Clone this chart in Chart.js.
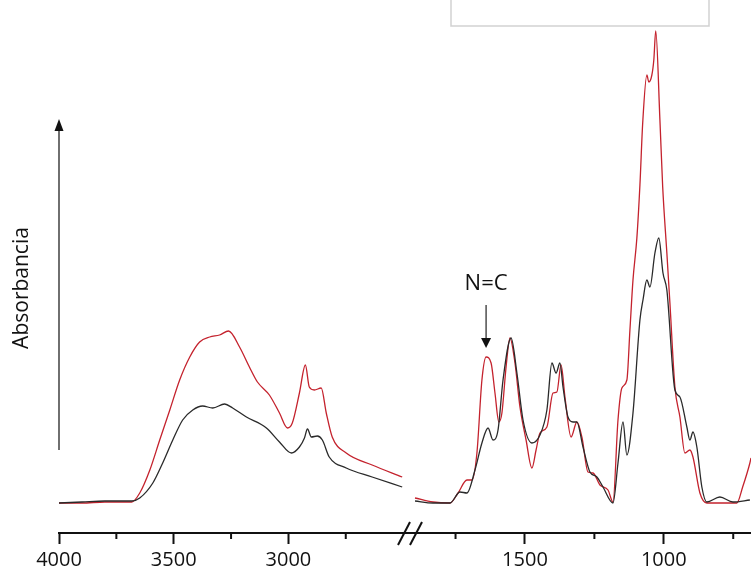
<!DOCTYPE html>
<html>
<head>
<meta charset="utf-8">
<script src="https://cdn.jsdelivr.net/npm/chart.js@4.4.1/dist/chart.umd.min.js"></script>
<style>
  html, body { margin: 0; padding: 0; background: #fff; overflow: hidden; }
  #wrap { position: relative; width: 751px; height: 569px; overflow: hidden; }
  #wrap canvas { position: absolute; left: 0; top: 0; }
</style>
</head>
<body>
<div id="wrap">
  <canvas id="left-chart" width="751" height="576"></canvas>
  <canvas id="right-chart" width="751" height="576"></canvas>
</div>
<script>
// wavenumber (cm-1) / absorbance (a.u.)
// left panel: 4000 - 2500 cm-1
const leftRedX = [4000, 3900, 3800, 3683, 3648, 3604, 3561, 3517, 3474, 3430, 3387, 3343, 3300, 3261, 3213, 3170, 3135, 3083, 3039, 3004, 2983, 2952, 2926, 2909, 2887, 2857, 2835, 2809, 2748, 2635, 2504];
const leftRedY = [0, 0, 1, 1, 10, 33, 63, 93, 123, 146, 161, 166, 168, 172, 156, 136, 121, 108, 90, 75, 80, 110, 138, 116, 113, 115, 90, 66, 50, 38, 26];

const leftBlackX = [4000, 3900, 3800, 3683, 3648, 3591, 3548, 3504, 3461, 3417, 3374, 3330, 3278, 3243, 3183, 3096, 3039, 2987, 2952, 2930, 2917, 2900, 2874, 2852, 2822, 2748, 2635, 2504];
const leftBlackY = [0, 1, 2, 2, 5, 20, 40, 63, 83, 93, 97, 95, 99, 95, 86, 75, 61, 50, 56, 65, 74, 66, 67, 63, 46, 35, 26, 16];

// right panel: 1900 - 690 cm-1
const rightRedX = [1896, 1831, 1770, 1741, 1709, 1691, 1673, 1655, 1640, 1622, 1608, 1594, 1583, 1568, 1554, 1536, 1518, 1496, 1475, 1460, 1446, 1421, 1399, 1385, 1370, 1356, 1334, 1313, 1295, 1273, 1255, 1230, 1201, 1183, 1165, 1151, 1133, 1122, 1111, 1097, 1086, 1076, 1061, 1054, 1043, 1036, 1029, 1014, 1004, 989, 978, 960, 942, 924, 906, 895, 870, 845, 800, 737, 716, 690, 686];
const rightRedY = [5, 1, 0, 10, 23, 23, 50, 123, 146, 140, 110, 81, 90, 136, 165, 140, 96, 63, 35, 53, 70, 76, 110, 111, 138, 106, 66, 81, 66, 31, 30, 18, 13, 1, 83, 115, 123, 173, 223, 265, 318, 380, 428, 421, 428, 443, 472, 383, 316, 250, 200, 116, 86, 50, 53, 46, 10, 0, 0, 0, 16, 40, 45];

const rightBlackX = [1896, 1831, 1770, 1734, 1709, 1680, 1655, 1633, 1615, 1597, 1579, 1550, 1529, 1507, 1475, 1446, 1421, 1403, 1388, 1374, 1363, 1345, 1327, 1313, 1291, 1266, 1241, 1219, 1183, 1165, 1147, 1133, 1111, 1086, 1075, 1061, 1050, 1032, 1018, 1003, 989, 960, 942, 917, 906, 895, 881, 863, 845, 798, 751, 690];
const rightBlackY = [2, 0, 0, 11, 10, 33, 60, 75, 63, 73, 123, 165, 130, 83, 60, 68, 93, 140, 130, 140, 116, 86, 81, 81, 56, 31, 26, 16, 0, 40, 81, 48, 90, 183, 203, 223, 216, 250, 265, 230, 213, 113, 106, 76, 63, 71, 56, 16, 1, 6, 1, 3];

const RED = '#c4222d';
const BLACK = '#2a2a2a';
const FONT = '"Open Sans", "Liberation Sans", sans-serif';

const toPoints = (xs, ys) => xs.map((x, i) => ({ x, y: ys[i] }));
const isMajor = (v) => Math.round(v) % 500 === 0;

function lineSet(xs, ys, color) {
  return {
    data: toPoints(xs, ys),
    borderColor: color,
    borderWidth: 1.3,
    pointRadius: 0,
    fill: false,
    cubicInterpolationMode: 'monotone',
  };
}

function xAxis(min, max, lowest) {
  return {
    type: 'linear',
    reverse: true,
    min: min,
    max: max,
    // ticks every 250 cm-1, labels every 500
    afterBuildTicks: (s) => {
      const ticks = [];
      for (let v = Math.ceil(s.min / 250) * 250; v <= s.max; v += 250) {
        if (v > lowest) ticks.push({ value: v });
      }
      s.ticks = ticks;
    },
    ticks: {
      autoSkip: false,
      maxRotation: 0,
      padding: 4,
      color: '#111',
      font: { family: FONT, size: 20 },
      callback: (v) => (isMajor(v) ? String(Math.round(v)) : ''),
    },
    grid: {
      display: true,
      drawOnChartArea: false,
      tickLength: 11,
      tickWidth: 2,
      tickColor: (ctx) => (ctx.tick && isMajor(ctx.tick.value) ? '#111' : 'rgba(0,0,0,0)'),
    },
    border: { display: true, color: '#111', width: 2 },
  };
}

// short ticks for the 250 steps
const minorTicks = {
  id: 'minorTicks',
  afterDraw(chart) {
    const ctx = chart.ctx;
    const sx = chart.scales.x;
    const y0 = chart.chartArea.bottom;
    ctx.save();
    ctx.strokeStyle = '#111';
    ctx.lineWidth = 2;
    sx.ticks.forEach((t) => {
      if (isMajor(t.value)) return;
      const px = sx.getPixelForValue(t.value);
      ctx.beginPath();
      ctx.moveTo(px, y0);
      ctx.lineTo(px, y0 + 6);
      ctx.stroke();
    });
    ctx.restore();
  },
};

const leftDecor = {
  id: 'leftDecor',
  afterDraw(chart) {
    const ctx = chart.ctx;
    const area = chart.chartArea;
    ctx.save();

    // absorbance arrow
    const ax = area.left;
    ctx.strokeStyle = '#222';
    ctx.fillStyle = '#111';
    ctx.lineWidth = 1.3;
    ctx.beginPath();
    ctx.moveTo(ax, 450);
    ctx.lineTo(ax, 128);
    ctx.stroke();
    ctx.beginPath();
    ctx.moveTo(ax - 4.5, 131);
    ctx.lineTo(ax + 4.5, 131);
    ctx.lineTo(ax, 119);
    ctx.closePath();
    ctx.fill();

    ctx.save();
    ctx.translate(22, 288);
    ctx.rotate(-Math.PI / 2);
    ctx.font = '21px ' + FONT;
    ctx.textAlign = 'center';
    ctx.textBaseline = 'middle';
    ctx.fillText('Absorbancia', 0, 0);
    ctx.restore();

    // axis break
    const bx = area.right;
    const by = area.bottom;
    ctx.strokeStyle = '#111';
    ctx.lineWidth = 2;
    [-6, 6].forEach((dx) => {
      ctx.beginPath();
      ctx.moveTo(bx + dx - 6, by + 12);
      ctx.lineTo(bx + dx + 6, by - 11);
      ctx.stroke();
    });

    // empty legend frame at the top
    ctx.strokeStyle = '#d2d2d2';
    ctx.lineWidth = 1.5;
    ctx.beginPath();
    ctx.moveTo(451, -2);
    ctx.lineTo(451, 26);
    ctx.lineTo(709, 26);
    ctx.lineTo(709, -2);
    ctx.stroke();

    ctx.restore();
  },
};

const rightDecor = {
  id: 'rightDecor',
  afterDraw(chart) {
    const ctx = chart.ctx;
    const px = chart.scales.x.getPixelForValue(1640);
    const peak = chart.scales.y.getPixelForValue(146);
    ctx.save();
    ctx.fillStyle = '#111';
    ctx.strokeStyle = '#333';
    ctx.lineWidth = 1.3;
    ctx.font = '22px ' + FONT;
    ctx.textAlign = 'center';
    ctx.textBaseline = 'middle';
    ctx.fillText('N=C', px, peak - 73);
    ctx.beginPath();
    ctx.moveTo(px, peak - 52);
    ctx.lineTo(px, peak - 16);
    ctx.stroke();
    ctx.beginPath();
    ctx.moveTo(px - 5, peak - 19);
    ctx.lineTo(px + 5, peak - 19);
    ctx.lineTo(px, peak - 9);
    ctx.closePath();
    ctx.fill();
    ctx.restore();
  },
};

function makeChart(id, datasets, xScale, padding, plugins) {
  return new Chart(document.getElementById(id).getContext('2d'), {
    type: 'line',
    data: { datasets },
    options: {
      responsive: false,
      animation: false,
      layout: { padding },
      plugins: { legend: { display: false }, tooltip: { enabled: false } },
      scales: {
        x: xScale,
        y: { display: false, min: -30, max: 503 },
      },
    },
    plugins,
  });
}

makeChart(
  'left-chart',
  [lineSet(leftBlackX, leftBlackY, BLACK), lineSet(leftRedX, leftRedY, RED)],
  xAxis(2470, 4000, 2500),
  { left: 59, right: 341, top: 0, bottom: 0 },
  [minorTicks, leftDecor]
);

makeChart(
  'right-chart',
  [lineSet(rightBlackX, rightBlackY, BLACK), lineSet(rightRedX, rightRedY, RED)],
  xAxis(686, 1914, 686),
  { left: 410, right: 0, top: 0, bottom: 0 },
  [minorTicks, rightDecor]
);
</script>
</body>
</html>
